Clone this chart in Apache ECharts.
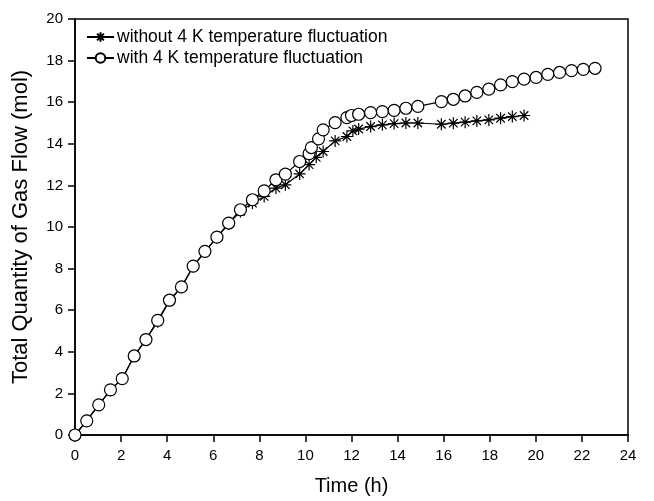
<!DOCTYPE html>
<html><head><meta charset="utf-8">
<script src="https://cdn.jsdelivr.net/npm/echarts@6/dist/echarts.min.js"></script>
<style>html,body{margin:0;padding:0;background:#fff}#c{width:654px;height:501px}</style>
</head><body><div id="c"></div>
<script>
const seriesNames = ['without 4 K temperature fluctuation', 'with 4 K temperature fluctuation'];
const noFlucTime = [0,0.51,1.03,1.54,2.05,2.57,3.08,3.59,4.1,4.62,5.13,5.64,6.16,6.67,7.18,7.7,8.21,8.72,9.13,9.75,10.16,10.47,10.77,11.29,11.8,12.06,12.31,12.83,13.34,13.85,14.36,14.88,15.9,16.42,16.93,17.44,17.96,18.47,18.98,19.49];
const noFlucFlow = [0,0.7,1.45,2.15,2.72,3.8,4.6,5.45,6.45,7.1,8.1,8.8,9.5,10.15,10.75,11.15,11.47,11.87,12.03,12.55,13.0,13.35,13.63,14.14,14.35,14.62,14.71,14.83,14.91,14.97,15.0,15.0,14.94,14.99,15.04,15.1,15.15,15.23,15.31,15.36];
const flucTime = [0,0.51,1.03,1.54,2.05,2.57,3.08,3.59,4.1,4.62,5.13,5.64,6.16,6.67,7.18,7.7,8.21,8.72,9.13,9.75,10.16,10.26,10.57,10.77,11.29,11.8,12.0,12.31,12.83,13.34,13.85,14.36,14.88,15.9,16.42,16.93,17.44,17.96,18.47,18.98,19.49,20.01,20.52,21.03,21.55,22.06,22.57];
const flucFlow = [0,0.68,1.45,2.17,2.71,3.8,4.59,5.51,6.48,7.12,8.12,8.83,9.51,10.19,10.83,11.31,11.74,12.27,12.54,13.15,13.53,13.82,14.24,14.67,15.02,15.26,15.36,15.42,15.5,15.55,15.61,15.71,15.8,16.03,16.14,16.3,16.47,16.63,16.83,16.99,17.11,17.19,17.34,17.43,17.52,17.58,17.63];
const xRange = [0, 24, 2];
const yRange = [0, 20, 2];

const pair = (xs, ys) => xs.map((x, i) => [x, ys[i]]);
const asterisk = 'path://M6 0L6 12M0 6L12 6M1.76 1.76L10.24 10.24M1.76 10.24L10.24 1.76';
const FONT = 'Liberation Sans';
const chart = echarts.init(document.getElementById('c'), null, {renderer: 'canvas'});
const axisCommon = {
  axisLine: {show: true, onZero: false, lineStyle: {color: '#000', width: 1.5}},
  axisTick: {show: true, inside: false, length: 7, lineStyle: {color: '#000', width: 1.5}},
  splitLine: {show: false},
  axisLabel: {color: '#000', fontFamily: FONT, fontSize: 15, margin: 12},
  nameTextStyle: {color: '#000', fontFamily: FONT, fontSize: 20},
  nameLocation: 'middle'
};
chart.setOption({
  animation: false,
  backgroundColor: '#fff',
  grid: {left: 75, right: 26, top: 19, bottom: 52, show: true, borderColor: '#000', borderWidth: 1.5, containLabel: false},
  legend: {
    orient: 'vertical', left: 81, top: 23, itemWidth: 27, itemHeight: 12, itemGap: 3,
    textStyle: {color: '#000', fontFamily: FONT, fontSize: 17.5, padding: [0, 0, 0, -2]},
    data: seriesNames
  },
  xAxis: Object.assign({}, axisCommon, {
    type: 'value', min: xRange[0], max: xRange[1], interval: xRange[2],
    name: 'Time (h)', nameGap: 41,
    axisLabel: Object.assign({}, axisCommon.axisLabel, {margin: 13})
  }),
  yAxis: Object.assign({}, axisCommon, {
    type: 'value', min: yRange[0], max: yRange[1], interval: yRange[2],
    name: 'Total Quantity of Gas Flow (mol)', nameGap: 43,
    nameTextStyle: {color: '#000', fontFamily: FONT, fontSize: 22}
  }),
  series: [
    {
      name: seriesNames[0], type: 'line', data: pair(noFlucTime, noFlucFlow),
      symbol: asterisk, symbolSize: 12, showAllSymbol: true,
      lineStyle: {color: '#000', width: 1.2},
      itemStyle: {color: '#000', borderColor: '#000', borderWidth: 1.2},
      clip: false
    },
    {
      name: seriesNames[1], type: 'line', data: pair(flucTime, flucFlow),
      symbol: 'circle', symbolSize: 12, showAllSymbol: true,
      lineStyle: {color: '#000', width: 1.2},
      itemStyle: {color: '#fff', borderColor: '#000', borderWidth: 1.2},
      clip: false
    }
  ]
});
</script></body></html>
